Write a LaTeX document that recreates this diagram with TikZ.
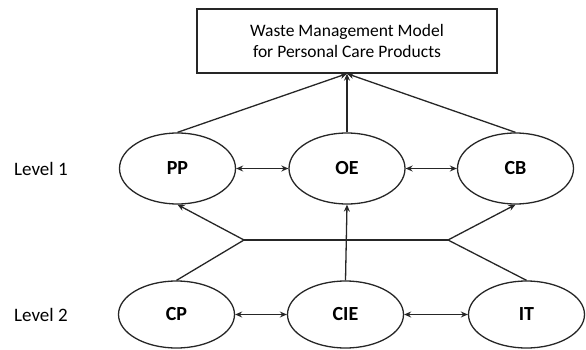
\documentclass[tikz,border=0pt]{standalone}
\usepackage{fontspec}
\setmainfont{Carlito}
\usetikzlibrary{arrows.meta,shapes.geometric}
\begin{document}
\begin{tikzpicture}[x=1pt,y=-1pt,
  ell/.style={draw=black!85, ellipse, line width=1.3pt, minimum width=116pt, minimum height=71pt, inner sep=0pt, font=\fontsize{20}{24}\selectfont\bfseries},
  ell2/.style={ell, minimum height=67pt},
  lvl/.style={font=\fontsize{19}{23}\selectfont, anchor=west, inner sep=0pt},
  con/.style={line width=1.3pt, draw=black!85},
  arr/.style={con, -{Stealth[length=7pt,width=6pt]}},
  darr/.style={con, {Stealth[length=7pt,width=6pt]}-{Stealth[length=7pt,width=6pt]}}
]
\useasboundingbox (0,0) rectangle (586,350);
\node[draw=black!85, line width=1.3pt, minimum width=300pt, minimum height=64pt, align=center,
  font=\fontsize{17.5}{20.5}\selectfont] (box) at (347,41) {Waste Management Model\\for Personal Care Products};
\node[ell] (PP) at (177.5,168.5) {PP};
\node[ell] (OE) at (347,168.5) {OE};
\node[ell] (CB) at (515.5,168.5) {CB};
\node[ell2] (CP) at (176.5,314.5) {CP};
\node[ell2] (CIE) at (345.5,314.5) {CIE};
\node[ell2] (IT) at (526.5,314.5) {IT};
\node[lvl] (L1) at (14,168.5) {Level 1};
\node[lvl] (L2) at (14,314.5) {Level 2};
\coordinate (jl) at (244,240);
\coordinate (jr) at (448,240);
\draw[arr] (PP.north) -- (box.south);
\draw[arr] (OE.north) -- (box.south);
\draw[arr] (CB.north) -- (box.south);
\draw[darr] (PP.east) -- (OE.west);
\draw[darr] (OE.east) -- (CB.west);
\draw[darr] (CP.east) -- (CIE.west);
\draw[darr] (CIE.east) -- (IT.west);
\draw[con] (jl) -- (jr);
\draw[con] (CP.north) -- (jl);
\draw[arr] (jl) -- (PP.south);
\draw[con] (IT.north) -- (jr);
\draw[arr] (jr) -- (CB.south);
\draw[arr] (CIE.north) -- (OE.south);
\end{tikzpicture}
\end{document}
